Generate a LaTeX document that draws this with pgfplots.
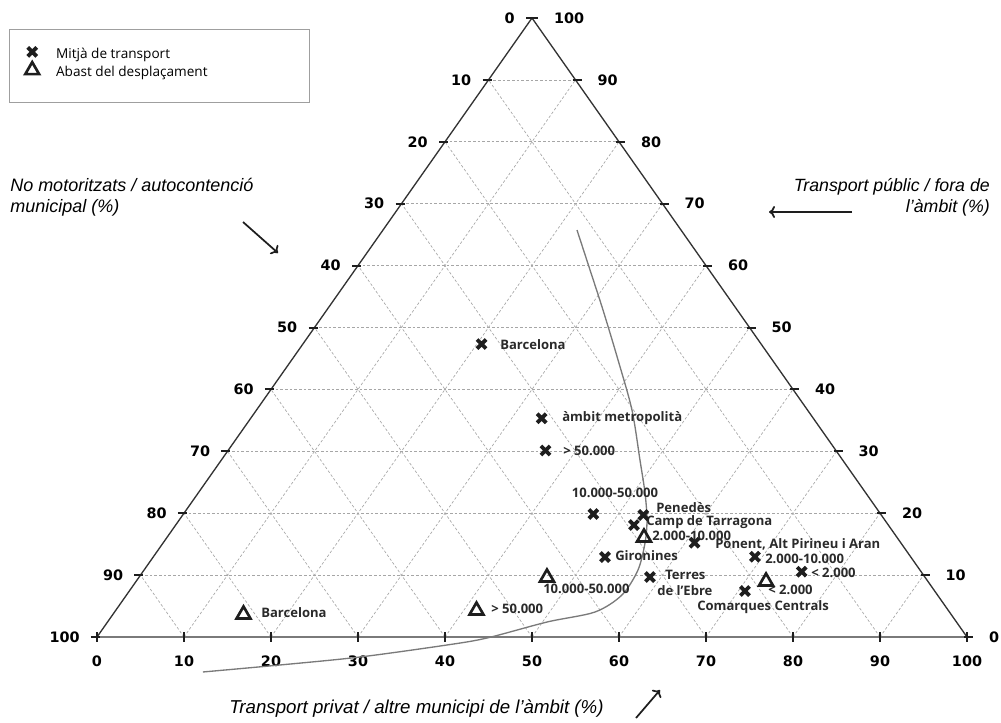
\documentclass[border=0pt]{standalone}
\usepackage{fontspec}
\setmainfont{Open Sans}
\newfontfamily\tickfont{DejaVu Sans}
\newfontfamily\titlefont{Liberation Sans}
\usepackage{pgfplots}
\pgfplotsset{compat=1.18}
\usetikzlibrary{arrows.meta}
\definecolor{edgecol}{HTML}{333333}
\definecolor{gridcol}{HTML}{A6A6A6}
\definecolor{labcol}{HTML}{2A2A2A}
\definecolor{curvecol}{HTML}{7A7A7A}
\definecolor{markcol}{HTML}{1E1E1E}

\begin{document}
\begin{tikzpicture}
\begin{axis}[
  scale only axis, width=652.5pt, height=464.25pt,
  xmin=0, xmax=100, ymin=0, ymax=100, y dir=reverse,
  hide axis, clip=false,
  legend cell align=left,
  legend style={draw=none, fill=none, at={(axis cs:-9.195,7.35)}, anchor=west,
    font=\fontsize{10.2}{12}\selectfont, row sep=0.6pt,
    nodes={inner sep=0pt, text height=7pt, text depth=2pt}},
  legend image code/.code={\path (0pt,0pt) (23.25pt,0pt);
    \draw[#1] plot coordinates {(6.75pt,2.6pt)};},
  every node/.append style={text=labcol},
]
% page frame
\coordinate (bbA) at (axis cs:-11.149,113.893);
\coordinate (bbB) at (axis cs:103.908,-2.908);

% dashed grid: horizontal lines and lines parallel to the two slanted sides
\pgfplotsinvokeforeach{10,20,...,90}{
  \draw[gridcol, dash pattern=on 2pt off 1.5pt, line width=0.5pt]
    (axis cs:{50-#1/2},#1) -- (axis cs:{50+#1/2},#1);
  \draw[gridcol, dash pattern=on 2pt off 1.5pt, line width=0.5pt]
    (axis cs:#1,100) -- (axis cs:{#1/2},{100-#1});
  \draw[gridcol, dash pattern=on 2pt off 1.5pt, line width=0.5pt]
    (axis cs:#1,100) -- (axis cs:{50+#1/2},#1);
}

% triangle frame
\draw[edgecol, line width=1pt, line join=miter]
  (axis cs:0,100) -- (axis cs:50,0) -- (axis cs:100,100) -- cycle;

% ticks and tick labels
\pgfplotsinvokeforeach{0,10,...,100}{
  \draw[markcol, line width=1.3pt] (axis cs:#1,100) ++(0pt,3.75pt) -- ++(0pt,-7.5pt);
  \draw[markcol, line width=1.5pt] (axis cs:{50-#1/2},#1) ++(-4.5pt,0pt) -- ++(6.75pt,0pt);
  \draw[markcol, line width=1.5pt] (axis cs:{50+#1/2},#1) ++(-2.25pt,0pt) -- ++(6.75pt,0pt);
  \node[font=\tickfont\bfseries\fontsize{10.8}{12}\selectfont, anchor=center]
    at (axis cs:#1,103.88) {#1};
  \node[font=\tickfont\bfseries\fontsize{10.8}{12}\selectfont, anchor=east, xshift=-9.5pt]
    at (axis cs:{50-#1/2},#1) {#1};
  \node[font=\tickfont\bfseries\fontsize{10.8}{12}\selectfont, anchor=west, xshift=13pt]
    at (axis cs:{50+#1/2},#1) {\pgfmathparse{int(100-#1)}\pgfmathresult};
}

% guide curve
\addplot[curvecol, line width=1pt, smooth, forget plot] coordinates {
  (55.17,34.25) (56.67,40.71) (58.16,47.17) (59.89,55.25) (61.49,63.33)
  (62.41,71.41) (62.99,76.74) (63.22,81.10) (62.99,84.81) (62.18,89.18)
  (60.34,93.21) (57.24,95.96) (51.72,97.58) (44.83,100.16) (40.23,101.29)
  (30.23,103.23) (21.03,104.52) (12.18,105.65)
};

% transport mode
\addplot[only marks, mark=x, mark size=4.8pt, line width=2.9pt, color=markcol]
  coordinates {
  (44.20,52.67) (51.11,64.67) (51.55,69.87) (57.05,80.13) (62.79,80.29)
  (61.72,81.91) (58.39,87.08) (63.56,90.31) (68.68,84.77) (75.63,87.03)
  (81.00,89.45) (74.48,92.57)
};
\addlegendentry{Mitjà de transport}

% trip range
\addplot[only marks, mark=triangle, mark size=6pt, line width=2pt, color=markcol]
  coordinates {
  (16.84,96.36) (43.62,95.72) (51.72,90.39) (62.87,83.93) (76.90,91.03)
};
\addlegendentry{Abast del desplaçament}

% point labels
\begin{scope}[every node/.style={font=\fontsize{9.8}{11}\selectfont\bfseries, text=labcol, inner sep=0pt, anchor=west}]
\node at (axis cs:46.322,52.827) {Barcelona};
\node at (axis cs:53.448,64.620) {àmbit metropolità};
\node at (axis cs:53.563,69.952) {> 50.000};
\node[anchor=center] at (axis cs:59.540,76.737) {10.000-50.000};
\node at (axis cs:64.253,79.160) {Penedès};
\node at (axis cs:63.103,81.422) {Camp de Tarragona};
\node at (axis cs:63.793,83.683) {2.000-10.000};
\node at (axis cs:71.034,84.976) {Ponent, Alt Pirineu i Aran};
\node at (axis cs:59.540,86.914) {Gironines};
\node at (axis cs:76.782,87.399) {2.000-10.000};
\node at (axis cs:82.069,89.661) {< 2.000};
\node at (axis cs:65.287,89.984) {Terres};
\node at (axis cs:64.368,92.569) {de l’Ebre};
\node at (axis cs:51.264,92.246) {10.000-50.000};
\node at (axis cs:77.126,92.407) {< 2.000};
\node at (axis cs:68.966,95.154) {Comarques Centrals};
\node at (axis cs:45.287,95.477) {> 50.000};
\node at (axis cs:18.851,96.123) {Barcelona};
\end{scope}

% legend frame
\draw[gray!75, line width=0.7pt] (axis cs:-10.115,1.777) rectangle (axis cs:24.368,13.570);

% component titles and arrows
\node[font=\titlefont\itshape\fontsize{14}{15.75}\selectfont, anchor=center]
  at (axis cs:36.724,111.632) {Transport privat / altre municipi de l’àmbit (\%)};
\node[font=\titlefont\itshape\fontsize{13.5}{15.75}\selectfont, anchor=west, align=left, inner sep=0pt]
  at (axis cs:-10.0,28.998) {No motoritzats / autocontenció\\municipal (\%)};
\node[font=\titlefont\itshape\fontsize{13.3}{15.75}\selectfont, anchor=east, align=right, inner sep=0pt]
  at (axis cs:102.644,28.998) {Transport públic / fora de\\l’àmbit (\%)};
\draw[markcol, line width=1.3pt, -{To[length=4.5pt,width=9pt]}]
  (axis cs:16.782,32.956) -- (axis cs:20.805,37.964);
\draw[markcol, line width=1.3pt, -{To[length=4.5pt,width=9pt]}]
  (axis cs:86.782,31.341) -- (axis cs:77.241,31.341);
\draw[markcol, line width=1.3pt, -{To[length=4.5pt,width=9pt]}]
  (axis cs:61.954,113.086) -- (axis cs:64.713,108.562);
\end{axis}
\pgfresetboundingbox
\path (bbA) rectangle (bbB);
\end{tikzpicture}
\end{document}
